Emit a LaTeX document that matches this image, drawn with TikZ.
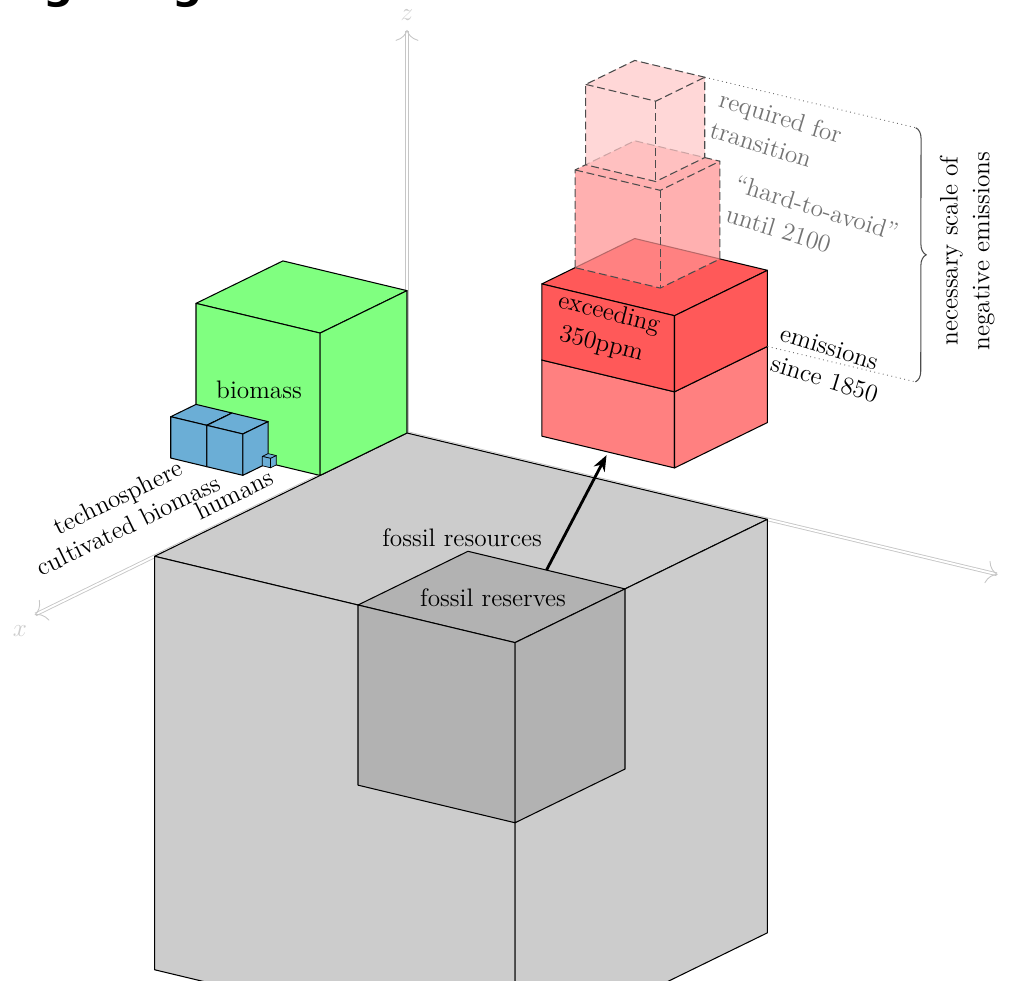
\documentclass[tikz,border=0pt]{standalone}
\usepackage{fontspec}
\newfontfamily\headfont{DejaVu Sans}
\usetikzlibrary{decorations.pathreplacing,arrows.meta}

\definecolor{techblue}{RGB}{107,174,214}

% solid cuboid: #1 style, corners (#2,#3,#4) and (#5,#6,#7); draws the three faces seen from the front
\newcommand{\cuboidat}[7]{%
  \path[#1] (#2,#3,#7) -- (#5,#3,#7) -- (#5,#6,#7) -- (#2,#6,#7) -- cycle;
  \path[#1] (#5,#3,#4) -- (#5,#6,#4) -- (#5,#6,#7) -- (#5,#3,#7) -- cycle;
  \path[#1] (#2,#6,#4) -- (#5,#6,#4) -- (#5,#6,#7) -- (#2,#6,#7) -- cycle;
}
% translucent cuboid: faces filled with #1, outline drawn once with #2
\newcommand{\ghostcubeat}[8]{%
  \path[#1] (#3,#4,#8) -- (#6,#4,#8) -- (#6,#7,#8) -- (#3,#7,#8) -- cycle;
  \path[#1] (#6,#4,#5) -- (#6,#7,#5) -- (#6,#7,#8) -- (#6,#4,#8) -- cycle;
  \path[#1] (#3,#7,#5) -- (#6,#7,#5) -- (#6,#7,#8) -- (#3,#7,#8) -- cycle;
  \draw[#2] (#6,#4,#5) -- (#6,#4,#8) -- (#3,#4,#8) -- (#3,#7,#8) -- (#3,#7,#5) -- (#6,#7,#5) -- cycle;
  \draw[#2] (#6,#4,#8) -- (#6,#7,#8) -- (#3,#7,#8);
  \draw[#2] (#6,#7,#8) -- (#6,#7,#5);
}

\tikzset{
  face/.style={draw=black, line width=0.6pt, line join=round},
  axisline/.style={draw=gray!45, double=white, double distance=1.1pt, line width=0.5pt, ->},
  axislabel/.style={text=gray!40, font=\Large},
  lbl/.style={font=\Large, inner sep=1pt},
  graylbl/.style={lbl, text=black!55},
  ghostedge/.style={draw=black!70, line width=0.6pt, dash pattern=on 4.5pt off 2.2pt, line join=round},
  guide/.style={draw=black!60, line width=0.5pt, dotted},
  flow/.style={draw=black, line width=1.6pt, -{Stealth[length=9pt,width=7pt]}, shorten >=2pt},
  headletter/.style={anchor=south, inner sep=0pt, font=\headfont\bfseries\fontsize{24}{28}\selectfont},
}

\begin{document}
\begin{tikzpicture}
\useasboundingbox (0,0) rectangle (20.18,-19.6);

% heading letters, only their descenders reach below the page edge
\node[headletter] (h1) at (1.18,-0.16) {g};
\node[headletter] (h2) at (3.75,-0.16) {g};

\begin{scope}[shift={(8.14,-8.66)},
  x={(-1.1472cm,-0.5604cm)}, y={(1.6383cm,-0.3924cm)}, z={(0cm,1.8794cm)}]

  % axes
  \coordinate (O) at (0,0,0);
  \coordinate (xend) at (6.49,0,0);
  \coordinate (yend) at (0,7.21,0);
  \coordinate (zend) at (0,0,4.29);
  \draw[axisline] (O) -- (xend);
  \draw[axisline] (O) -- (yend);
  \draw[axisline] (O) -- (zend);
  \node[axislabel] (xlab) at (6.75,0,-0.1) {$x$};
  \node[axislabel] (zlab) at (0,0,4.45) {$z$};

  % fossil resources and reserves
  \cuboidat{face, fill=gray!40}{0}{0}{-4.4}{4.4}{4.4}{0}
  \cuboidat{face, fill=gray!60}{2.483}{2.483}{-1.917}{4.4}{4.4}{0}

  % biomass, technosphere, cultivated biomass, humans
  \cuboidat{face, fill=green!50}{0}{-1.515}{0}{1.515}{0}{1.515}
  \cuboidat{face, fill=techblue}{1.515}{-1.515}{0}{1.955}{-1.075}{0.44}
  \cuboidat{face, fill=techblue}{1.515}{-1.075}{0}{1.955}{-0.635}{0.44}
  \cuboidat{face, fill=techblue, line width=0.4pt}{1.515}{-0.635}{0}{1.615}{-0.535}{0.1}

  % emissions since 1850, lower and upper part
  \cuboidat{face, fill=red!50}{0}{2.78}{1.03}{1.62}{4.4}{1.84}
  \cuboidat{face, fill=red!65}{0}{2.78}{1.84}{1.62}{4.4}{2.65}

  % further negative emissions
  \ghostcubeat{fill=red!43, fill opacity=0.72}{ghostedge}{0}{2.78}{2.65}{1.04}{3.82}{3.69}
  \ghostcubeat{fill=red!22, fill opacity=0.72}{ghostedge}{0}{2.78}{3.69}{0.855}{3.635}{4.545}

  % arrow from reserves to emissions
  \coordinate (resedge) at (2.483,3.4415,0);
  \coordinate (emisbase) at (1.62,3.59,1.03);
  \draw[flow] (resedge) -- (emisbase);

  % dotted guides to the brace
  \coordinate (topcorner) at (0,3.635,4.545);
  \coordinate (topguide) at (0,6.211,4.545);
  \coordinate (midcorner) at (0,4.4,1.84);
  \coordinate (midguide) at (0,6.207,1.84);
  \draw[guide] (topcorner) -- (topguide);
  \draw[guide] (midcorner) -- (midguide);
\end{scope}

\begin{scope}[x=0.02cm, y=-0.02cm]
  \node[axislabel] (ylab) at (1015,586) {$y$};

  \draw[draw=black!70, line width=0.6pt, decorate, decoration={brace, amplitude=6pt}]
    (topguide) -- (midguide);

  \node[lbl] (biomasslbl) at (259,390) {biomass};
  \node[lbl, rotate=26] (technolbl) at (119,499) {technosphere};
  \node[lbl, rotate=26] (cultlbl) at (128,525) {cultivated biomass};
  \node[lbl, rotate=26] (humanslbl) at (234,494) {humans};
  \node[lbl] (resourceslbl) at (462,538) {fossil resources};
  \node[lbl] (reserveslbl) at (493,598) {fossil reserves};
  \node[lbl, rotate=-14, align=center] (exceedlbl) at (605,329) {exceeding\\350ppm};
  \node[lbl, rotate=-17, align=left] (emislbl) at (829,364) {emissions\\since 1850};
  \node[graylbl, rotate=-17, align=left] (hardlbl) at (812,223) {``hard-to-avoid''\\until 2100};
  \node[graylbl, rotate=-17, align=left] (translbl) at (776,132) {required for\\transition};
  \node[lbl, rotate=90, align=center] (scalelbl) at (967,251) {necessary scale of\\negative emissions};
\end{scope}
\end{tikzpicture}
\end{document}
